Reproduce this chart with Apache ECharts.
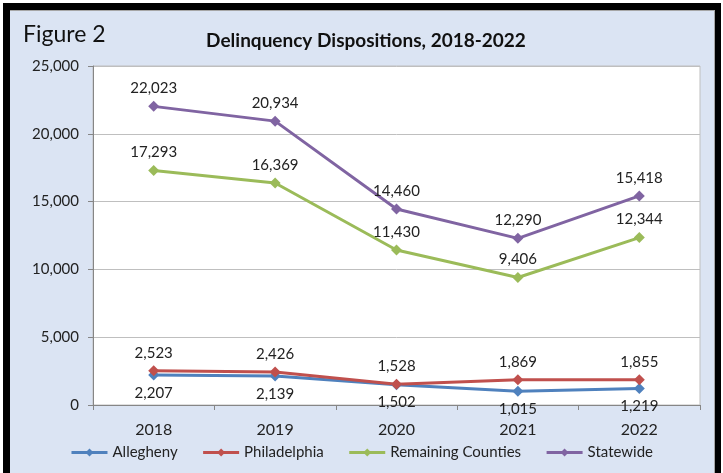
<!DOCTYPE html>
<html>
<head>
<meta charset="utf-8">
<script src="https://cdn.jsdelivr.net/npm/echarts@6/dist/echarts.min.js"></script>
<style>
  html, body { margin: 0; padding: 0; background: #fff; overflow: hidden; }
  #frame {
    position: absolute; left: 3px; top: 3px;
    width: 705px; height: 520px;
    border-left: 7px solid #000; border-top: 7px solid #000; border-right: 6px solid #000;
    background: #dbe4f3;
    box-shadow: inset -1px 1px 0 #a6a6a6;
  }
  #chart { position: absolute; left: 0; top: 0; width: 723px; height: 473px; }
</style>
</head>
<body>
<div id="frame"></div>
<div id="chart"></div>
<script>
const years = ['2018', '2019', '2020', '2021', '2022']
const allegheny = [2207, 2139, 1502, 1015, 1219]
const philadelphia = [2523, 2426, 1528, 1869, 1855]
const remainingCounties = [17293, 16369, 11430, 9406, 12344]
const statewide = [22023, 20934, 14460, 12290, 15418]

const font = 'Lato, "Open Sans", sans-serif'
const fmt = (v) => Number(v).toLocaleString('en-US')

const makeSeries = (name, data, color, labelPos) => {
  return {
    name: name,
    type: 'line',
    data: data,
    symbol: 'diamond',
    symbolSize: 11,
    lineStyle: { color: color, width: 3 },
    itemStyle: { color: color },
    label: {
      show: true,
      position: labelPos,
      distance: 5,
      formatter: (p) => fmt(p.value),
      color: '#222',
      fontFamily: font,
      fontSize: 15
    },
    animation: false
  }
}

const myChart = echarts.init(document.getElementById('chart'))
myChart.setOption({
  backgroundColor: 'transparent',
  title: [{
    text: 'Figure 2',
    left: 18,
    top: 18,
    textStyle: { fontFamily: font, fontWeight: 'normal', fontSize: 23, color: '#111' }
  }, {
    text: 'Delinquency Dispositions, 2018-2022',
    left: 361,
    textAlign: 'center',
    top: 26,
    textStyle: { fontFamily: font, fontWeight: 'bold', fontSize: 19, color: '#111' }
  }],
  legend: {
    bottom: 8,
    left: 'center',
    itemWidth: 36,
    itemHeight: 10,
    itemGap: 24,
    lineStyle: { width: 3 },
    textStyle: { fontFamily: font, fontSize: 15, color: '#222' },
    data: ['Allegheny', 'Philadelphia', 'Remaining Counties', 'Statewide']
  },
  grid: {
    left: 93,
    right: 23,
    top: 66,
    bottom: 68,
    show: true,
    backgroundColor: '#fff',
    borderColor: '#bfbfbf',
    borderWidth: 1
  },
  xAxis: {
    type: 'category',
    data: years,
    boundaryGap: true,
    axisLine: { lineStyle: { color: '#868686', width: 1 } },
    axisTick: { show: true, length: 5, lineStyle: { color: '#868686' } },
    axisLabel: { margin: 17, fontFamily: font, fontSize: 16, color: '#222' }
  },
  yAxis: {
    type: 'value',
    min: 0,
    max: 25000,
    interval: 5000,
    axisLine: { show: true, lineStyle: { color: '#868686', width: 1 } },
    axisTick: { show: true, length: 5, lineStyle: { color: '#868686' } },
    splitLine: { lineStyle: { color: '#bfbfbf', width: 1 } },
    axisLabel: { margin: 14, formatter: (v) => fmt(v), fontFamily: font, fontSize: 15, color: '#222' }
  },
  series: [
    makeSeries('Allegheny', allegheny, '#4f81bd', 'bottom'),
    makeSeries('Philadelphia', philadelphia, '#c0504d', 'top'),
    makeSeries('Remaining Counties', remainingCounties, '#9bbb59', 'top'),
    makeSeries('Statewide', statewide, '#8064a2', 'top')
  ]
})
</script>
</body>
</html>
